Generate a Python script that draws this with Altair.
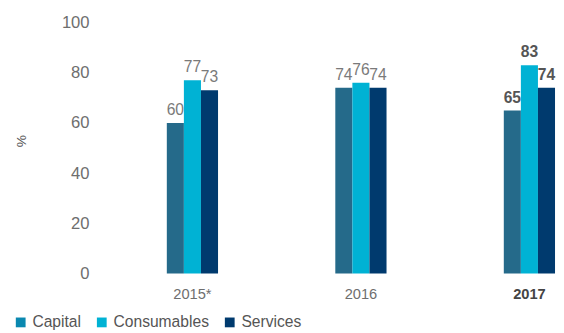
import altair as alt
import pandas as pd

years = ["2015*", "2016", "2017"]
categories = ["Capital", "Consumables", "Services"]
capital = [60, 74, 65]
consumables = [77, 76, 83]
services = [73, 74, 74]
bar_colors = ["#256a8a", "#00b2d4", "#003a6e"]
legend_colors = ["#0a88b0", "#00b2d4", "#003a6e"]

rows = []
for i, y in enumerate(years):
    for cat, vals in zip(categories, [capital, consumables, services]):
        rows.append({"year": y, "cat": cat, "series": cat, "value": vals[i]})
df = pd.DataFrame(rows)

FONT = "Liberation Sans"

x_enc = alt.X(
    "year:N",
    sort=years,
    scale=alt.Scale(paddingInner=0.696, paddingOuter=0.193, align=1),
    axis=alt.Axis(
        title=None, domain=False, ticks=False, labelAngle=0,
        labelFontSize=15, labelFont=FONT, labelPadding=14,
        labelColor={"condition": {"test": "datum.value == '2017'", "value": "#444444"}, "value": "#6e6e6e"},
        labelFontWeight={"condition": {"test": "datum.value == '2017'", "value": "bold"}, "value": "normal"},
    ),
)
xoff = alt.XOffset("cat:N", sort=categories, scale=alt.Scale(paddingInner=0, paddingOuter=0))
y_enc = alt.Y(
    "value:Q",
    scale=alt.Scale(domain=[0, 100], nice=False),
    axis=alt.Axis(
        title="%", values=[0, 20, 40, 60, 80, 100], grid=False, domain=False, ticks=False,
        labelFontSize=17, labelFont=FONT, labelColor="#6e6e6e", labelPadding=13,
        titleFontSize=14, titleFont=FONT, titleColor="#555555", titleFontWeight="normal",
        titleX=-82, titleY=121, titleAngle=-90, titleAlign="center", titleBaseline="middle",
    ),
)

base = alt.Chart(df)
bars = base.mark_bar().encode(
    x=x_enc, xOffset=xoff, y=y_enc,
    fill=alt.Fill("cat:N", sort=categories, scale=alt.Scale(range=bar_colors), legend=None),
)

legend_layer = base.transform_filter("false").mark_square(filled=True).encode(
    x=alt.X("year:N", sort=years),
    y="value:Q",
    color=alt.Color(
        "series:N",
        scale=alt.Scale(domain=categories, range=legend_colors),
        legend=alt.Legend(
            title=None, orient="none", direction="horizontal", legendX=-91, legendY=299,
            symbolType="square", symbolSize=100, symbolStrokeWidth=0, symbolOpacity=1,
            labelFontSize=16, labelFont=FONT, labelColor="#555555", labelOffset=4,
            columnPadding=13,
        ),
    ),
)

labels_light = base.transform_filter("datum.year != '2017'").mark_text(
    dy=-5, baseline="bottom", fontSize=16, font=FONT, color="#7a7a7a"
).encode(x=alt.X("year:N", sort=years), xOffset=alt.XOffset("cat:N", sort=categories), y="value:Q", text="value:Q")

labels_bold = base.transform_filter("datum.year == '2017'").mark_text(
    dy=-5, baseline="bottom", fontSize=16, font=FONT, fontWeight="bold", color="#555555"
).encode(x=alt.X("year:N", sort=years), xOffset=alt.XOffset("cat:N", sort=categories), y="value:Q", text="value:Q")

chart = alt.layer(bars, legend_layer, labels_light, labels_bold).properties(
    width=464, height=257,
    padding={"left": 5, "top": 2, "right": 0, "bottom": 0},
).configure_view(stroke=None)

chart.save("out.html", embed_options={"renderer": "svg", "actions": False})
